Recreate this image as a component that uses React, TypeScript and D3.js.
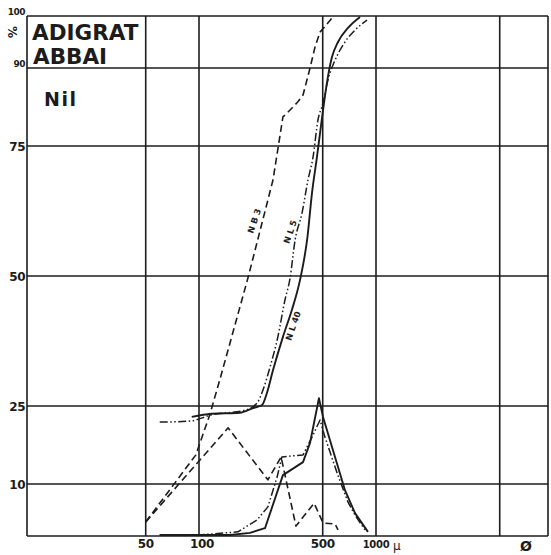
import React, { useEffect, useRef } from "react";
import * as d3 from "d3";

// grain size (µ) vs cumulative / frequency percent, read from the sheet
const nb3Cum = [[50, 2.7], [96, 15.6], [115, 23.3], [131, 30], [189, 49.6], [262, 68.5], [298, 80.6], [314, 81.3], [362, 83.5], [387, 84.8], [424, 90], [452, 94], [483, 96.9], [564, 99.6]];
const nl5Cum = [[60, 21.9], [89, 22.1], [118, 23.3], [182, 24.2], [213, 25.6], [230, 28.1], [252, 32.5], [279, 38.3], [306, 45.4], [327, 49.6], [349, 56.9], [382, 62.1], [413, 68.5], [441, 72.9], [470, 80], [502, 83.3], [535, 87.7], [587, 91.5], [668, 95], [761, 97.3], [890, 99.2]];
const nl40Cum = [[91, 22.9], [118, 23.5], [170, 23.7], [202, 24.6], [227, 25.2], [242, 27.5], [262, 31.9], [298, 38.3], [335, 43.5], [372, 49.2], [410, 57.5], [435, 66], [464, 72.9], [483, 77.5], [502, 81.9], [535, 88.3], [564, 92.1], [610, 95], [695, 97.7], [812, 99.8]];

const nb3Freq = [[50, 2.7], [146, 20.8], [245, 10.8], [291, 15.2], [353, 1.9], [447, 6.3], [502, 2.5], [587, 2.3], [610, 1.2]];
const nl5Freq = [[60, 0.2], [101, 0.2], [166, 0.8], [213, 3.1], [245, 5.6], [276, 11.3], [294, 15.2], [387, 15.6], [435, 19], [483, 22.3], [515, 19], [603, 12.1], [695, 6.5], [761, 4], [866, 1.2]];
const nl40Freq = [[60, 0.2], [150, 0.2], [194, 0.6], [236, 1.5], [298, 11.7], [387, 14.2], [424, 17.9], [476, 26.5], [502, 22.9], [668, 8.8], [761, 4.4], [901, 0.8]];

const yTicks = [10, 25, 50, 75, 90, 100];
const xGrid = [50, 100, 500, 1000, 5000];
const xTicks = [50, 100, 500, 1000];

// curve name labels: [text, µ, %]
const curveLabels: [string, number, number][] = [
  ["N B 3", 213, 60.4],
  ["N L 5", 340, 58.3],
  ["N L 40", 353, 40.2],
];

const INK = "#1c1c1c";

export default function App() {
  const ref: any = useRef(null);

  useEffect(() => {
    const width = 551;
    const height = 555;
    const frame = { left: 27, right: 548 };

    d3.select(ref.current).selectAll("*").remove();
    const svg = d3
      .select(ref.current)
      .append("svg")
      .attr("width", width)
      .attr("height", height)
      .style("display", "block")
      .style("background", "#fff");

    const x = d3.scaleLog().domain([100, 1000]).range([199, 376]);
    const y = d3.scaleLinear().domain([0, 100]).range([536, 16]);

    // grid
    const g = svg.append("g").attr("stroke", INK).attr("stroke-width", 1.6);
    g.selectAll(".h")
      .data([0, ...yTicks])
      .join("line")
      .attr("x1", frame.left)
      .attr("x2", frame.right)
      .attr("y1", (d) => y(d))
      .attr("y2", (d) => y(d));
    g.selectAll(".v")
      .data(xGrid)
      .join("line")
      .attr("x1", (d) => x(d))
      .attr("x2", (d) => x(d))
      .attr("y1", y(100))
      .attr("y2", y(0));
    g.append("line").attr("x1", frame.left).attr("x2", frame.left).attr("y1", y(100)).attr("y2", y(0));
    g.append("line").attr("x1", frame.right).attr("x2", frame.right).attr("y1", y(100)).attr("y2", y(0));

    // y labels
    svg.append("g")
      .selectAll("text")
      .data(yTicks)
      .join("text")
      .attr("x", 25)
      .attr("y", (d) => y(d) + (d >= 90 ? -1 : 4.5))
      .attr("text-anchor", "end")
      .attr("font-family", "DejaVu Sans")
      .attr("font-weight", "bold")
      .attr("font-size", (d) => (d >= 90 ? 9 : 12))
      .attr("letter-spacing", -0.5)
      .attr("fill", INK)
      .text((d) => d);

    // x labels
    svg.append("g")
      .selectAll("text")
      .data(xTicks)
      .join("text")
      .attr("x", (d) => x(d) + (d === 100 ? 3 : 0))
      .attr("y", 548)
      .attr("text-anchor", "middle")
      .attr("font-family", "DejaVu Sans")
      .attr("font-weight", "bold")
      .attr("font-size", (d) => (d === 1000 ? 10 : 12))
      .attr("letter-spacing", -0.3)
      .attr("fill", INK)
      .text((d) => d);

    svg.append("text").attr("x", 393).attr("y", 550).attr("font-family", "DejaVu Sans")
      .attr("font-size", 12).attr("fill", INK).text("µ");
    svg.append("text").attr("x", 526).attr("y", 551).attr("text-anchor", "middle")
      .attr("font-family", "DejaVu Sans").attr("font-weight", "bold")
      .attr("font-size", 14).attr("fill", INK).text("Ø");
    svg.append("text").attr("transform", "translate(12,32) rotate(90)").attr("text-anchor", "middle")
      .attr("font-family", "DejaVu Sans").attr("font-weight", "bold")
      .attr("font-size", 12).attr("fill", INK).attr("dy", 4).text("%");

    // titles
    const title = svg.append("g").attr("font-family", "DejaVu Sans").attr("font-weight", "bold").attr("fill", INK);
    title.append("text").attr("x", 32).attr("y", 40).attr("font-size", 21.5).text("ADIGRAT");
    title.append("text").attr("x", 33).attr("y", 64).attr("font-size", 21.5).text("ABBAI");
    title.append("text").attr("x", 44).attr("y", 106).attr("font-size", 19).attr("letter-spacing", 1.5).text("Nil");

    const lin = d3.line<number[]>().x((d) => x(d[0])).y((d) => y(d[1]));
    const smooth = d3.line<number[]>().x((d) => x(d[0])).y((d) => y(d[1])).curve(d3.curveMonotoneX);

    const series = [
      { data: nb3Cum, gen: lin, dash: "7,4", w: 1.6 },
      { data: nl5Cum, gen: smooth, dash: "8,2.5,1.5,2.5,1.5,2.5", w: 1.5 },
      { data: nl40Cum, gen: smooth, dash: null, w: 1.9 },
      { data: nb3Freq, gen: lin, dash: "7,4", w: 1.6 },
      { data: nl5Freq, gen: lin, dash: "8,2.5,1.5,2.5,1.5,2.5", w: 1.5 },
      { data: nl40Freq, gen: lin, dash: null, w: 1.9 },
    ];
    series.forEach((s) => {
      svg.append("path")
        .datum(s.data)
        .attr("fill", "none")
        .attr("stroke", INK)
        .attr("stroke-width", s.w)
        .attr("stroke-linejoin", "round")
        .attr("stroke-dasharray", s.dash)
        .attr("d", s.gen as any);
    });

    svg.append("g")
      .selectAll("text")
      .data(curveLabels)
      .join("text")
      .attr("transform", (d) => `translate(${x(d[1])},${y(d[2])}) rotate(-71)`)
      .attr("text-anchor", "middle")
      .attr("font-family", "DejaVu Sans")
      .attr("font-weight", "bold")
      .attr("font-size", 8.5)
      .attr("fill", INK)
      .text((d) => d[0]);
  }, []);

  return <div ref={ref} style={{ position: "absolute", left: 0, top: 0, width: 551, height: 555 }}></div>;
}
